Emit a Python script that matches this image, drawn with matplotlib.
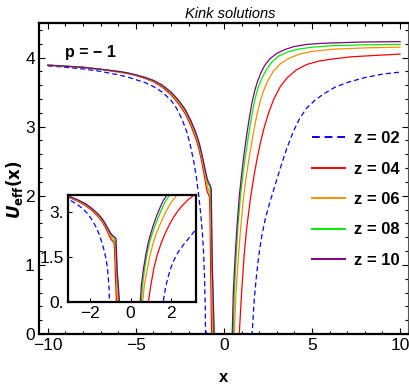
import matplotlib
matplotlib.use("Agg")
import matplotlib.pyplot as plt
from matplotlib import font_manager
from matplotlib.ticker import MultipleLocator

names = {f.name for f in font_manager.fontManager.ttflist}
fam = [n for n in ["Liberation Sans Narrow", "Liberation Sans", "DejaVu Sans"] if n in names]
plt.rcParams['font.family'] = fam

# ---- data ----
labels = ["z = 02", "z = 04", "z = 06", "z = 08", "z = 10"]
colors = ["#0000ff", "#ff0000", "#ff8c00", "#00ee00", "#800080"]

# left branches (x, U)
xL_02 = [-10, -9, -8, -7, -6, -5.5, -5, -4.5, -4, -3.5, -3, -2.7, -2.4, -2.1, -1.9, -1.7, -1.55, -1.42, -1.32, -1.22, -1.15, -1.10, -1.06, -1.03]
yL_02 = [3.88, 3.86, 3.835, 3.80, 3.75, 3.72, 3.68, 3.64, 3.58, 3.50, 3.38, 3.27, 3.12, 2.92, 2.72, 2.48, 2.24, 1.98, 1.74, 1.45, 1.15, 0.80, 0.40, -0.5]

xL_04 = [-10, -9, -8, -7, -6, -5.5, -5, -4.5, -4, -3.5, -3, -2.6, -2.2, -1.9, -1.6, -1.4, -1.25, -1.12, -1.02, -0.95, -0.88, -0.82, -0.79, -0.75, -0.70, -0.69]
yL_04 = [3.89, 3.875, 3.855, 3.83, 3.79, 3.77, 3.74, 3.70, 3.65, 3.57, 3.46, 3.34, 3.19, 3.03, 2.83, 2.66, 2.48, 2.30, 2.15, 2.06, 2.02, 1.98, 1.70, 0.90, 0.0, -0.5]

xL_06 = [-10, -9, -8, -7, -6, -5.5, -5, -4.5, -4, -3.5, -3, -2.6, -2.2, -1.9, -1.6, -1.4, -1.25, -1.11, -1.0, -0.93, -0.86, -0.79, -0.75, -0.70, -0.64, -0.63]
yL_06 = [3.89, 3.875, 3.858, 3.83, 3.795, 3.775, 3.745, 3.708, 3.66, 3.585, 3.48, 3.36, 3.22, 3.07, 2.87, 2.71, 2.54, 2.36, 2.21, 2.12, 2.08, 2.04, 1.75, 0.95, 0.0, -0.5]

xL_08 = [-10, -9, -8, -7, -6, -5.5, -5, -4.5, -4, -3.5, -3, -2.6, -2.2, -1.9, -1.6, -1.4, -1.25, -1.1, -0.99, -0.91, -0.85, -0.78, -0.73, -0.67, -0.58, -0.57]
yL_08 = [3.89, 3.875, 3.86, 3.83, 3.80, 3.778, 3.748, 3.712, 3.665, 3.595, 3.49, 3.38, 3.24, 3.09, 2.90, 2.74, 2.58, 2.40, 2.26, 2.18, 2.15, 2.12, 1.78, 1.0, 0.0, -0.5]

xL_10 = [-10, -9, -8, -7, -6, -5.5, -5, -4.5, -4, -3.5, -3, -2.6, -2.2, -1.9, -1.6, -1.4, -1.25, -1.1, -0.98, -0.9, -0.84, -0.78, -0.72, -0.66, -0.55, -0.54]
yL_10 = [3.89, 3.875, 3.86, 3.83, 3.80, 3.78, 3.75, 3.715, 3.67, 3.60, 3.50, 3.39, 3.25, 3.10, 2.92, 2.76, 2.60, 2.42, 2.28, 2.21, 2.18, 2.15, 2.10, 1.0, 0.0, -0.5]

# right branches (x, U)
xR_02 = [1.57, 1.60, 1.72, 1.85, 1.97, 2.15, 2.35, 2.6, 2.9, 3.2, 3.56, 3.94, 4.3, 4.7, 5.2, 5.7, 6.3, 7.0, 8.0, 9.0, 10]
yR_02 = [-0.5, 0.0, 0.5, 0.85, 1.12, 1.42, 1.67, 1.90, 2.15, 2.40, 2.68, 2.93, 3.12, 3.27, 3.39, 3.48, 3.57, 3.64, 3.71, 3.76, 3.79]

xR_04 = [0.85, 0.87, 1.0, 1.15, 1.30, 1.50, 1.70, 1.90, 2.10, 2.30, 2.55, 2.85, 3.2, 3.6, 4.1, 4.7, 5.4, 6.2, 7.2, 8.5, 10]
yR_04 = [-0.5, 0.0, 0.59, 1.15, 1.55, 1.95, 2.28, 2.56, 2.80, 3.00, 3.21, 3.41, 3.58, 3.71, 3.82, 3.90, 3.95, 3.98, 4.01, 4.03, 4.05]

xR_06 = [0.57, 0.59, 0.68, 0.81, 0.93, 1.10, 1.25, 1.40, 1.55, 1.70, 1.87, 2.05, 2.25, 2.5, 2.8, 3.2, 3.7, 4.3, 5.0, 6.2, 8, 10]
yR_06 = [-0.5, 0.0, 0.59, 1.07, 1.48, 1.95, 2.25, 2.50, 2.73, 2.95, 3.17, 3.36, 3.52, 3.67, 3.80, 3.91, 3.99, 4.05, 4.09, 4.12, 4.14, 4.15]

xR_08 = [0.51, 0.53, 0.59, 0.68, 0.78, 0.93, 1.06, 1.19, 1.35, 1.5, 1.65, 1.8, 1.95, 2.15, 2.4, 2.7, 3.1, 3.6, 4.2, 5.0, 6.0, 8, 10]
yR_08 = [-0.5, 0.0, 0.59, 1.07, 1.51, 1.97, 2.27, 2.52, 2.80, 3.04, 3.26, 3.44, 3.57, 3.70, 3.82, 3.93, 4.02, 4.08, 4.12, 4.15, 4.17, 4.185, 4.19]

xR_10 = [0.45, 0.47, 0.53, 0.63, 0.74, 0.87, 1.0, 1.12, 1.29, 1.45, 1.6, 1.75, 1.9, 2.1, 2.3, 2.6, 3.0, 3.5, 4.0, 4.7, 5.5, 6.6, 8, 10]
yR_10 = [-0.5, 0.0, 0.59, 1.10, 1.55, 1.99, 2.30, 2.56, 2.88, 3.14, 3.36, 3.52, 3.65, 3.78, 3.88, 3.98, 4.06, 4.12, 4.16, 4.19, 4.205, 4.215, 4.225, 4.23]

branches = [
    (xL_02, yL_02, xR_02, yR_02),
    (xL_04, yL_04, xR_04, yR_04),
    (xL_06, yL_06, xR_06, yR_06),
    (xL_08, yL_08, xR_08, yR_08),
    (xL_10, yL_10, xR_10, yR_10),
]

main_xticks = [-10, -5, 0, 5, 10]
main_yticks = [0, 1, 2, 3, 4]
inset_xticks = [-2, 0, 2]
inset_yticks = [0, 1.5, 3]
inset_yticklabels = ["0.", "1.5", "3."]

# ---- figure ----
fig = plt.figure(figsize=(4.09, 3.90), dpi=100)
ax = fig.add_axes([39/409, 56/390, 369/409, 311/390])

def draw(a, lw):
    handles = []
    for (xl, yl, xr, yr), c, lab in zip(branches, colors, labels):
        ls = (0, (4.0, 2.5)) if lab == "z = 02" else "-"
        h, = a.plot(xl, yl, color=c, lw=lw, ls=ls, label=lab, solid_joinstyle="round")
        a.plot(xr, yr, color=c, lw=lw, ls=ls, solid_joinstyle="round")
        handles.append(h)
    return handles

handles = draw(ax, 0.9)
ax.set_xlim(-10.5, 10.45)
ax.set_ylim(0, 4.5)
ax.set_xticks(main_xticks)
ax.set_yticks(main_yticks)
ax.xaxis.set_minor_locator(MultipleLocator(1))
ax.yaxis.set_minor_locator(MultipleLocator(0.2))
ax.tick_params(which="both", direction="in", top=True, right=True, labelsize=12.5, width=0.8, pad=3)
ax.tick_params(which="major", length=4)
ax.tick_params(which="minor", length=2.2)
for s in ["left", "bottom", "top"]:
    ax.spines[s].set_linewidth(1.6)
ax.spines["right"].set_linewidth(0.8)
ax.spines["right"].set_color("#555555")

fig.text(230/409, 1 - 13.5/390, "Kink solutions", fontsize=10.5, style="italic", ha="center", va="center")
ax.set_xlabel("x", fontsize=12, fontweight="bold")
ax.xaxis.set_label_coords((224-39)/369, -(370-334)/311)
ax.set_ylabel(r"$\boldsymbol{U}_{\mathbf{eff}}\mathbf{(x)}$", fontsize=12)
ax.yaxis.set_label_coords(-(39-25)/369, (334-190)/311)
ax.text(-9.0, 4.07, "p = − 1", fontsize=11.5, fontweight="bold", ha="left", va="center")

leg = ax.legend(handles=handles, loc="upper left", bbox_to_anchor=((312-39)/369, (334-131)/311),
                frameon=False, fontsize=12, handlelength=2.0, handletextpad=0.55,
                labelspacing=0.93, borderaxespad=0, borderpad=0)
for t in leg.get_texts():
    t.set_fontweight("bold")
for l in leg.get_lines():
    l.set_linewidth(1.4)

# ---- inset ----
ins = fig.add_axes([67.7/409, 88/390, 128/409, 107/390])
draw(ins, 0.9)
ins.set_xlim(-3.1, 3.2)
ins.set_ylim(0, 3.55)
ins.set_xticks(inset_xticks)
ins.set_yticks(inset_yticks)
ins.set_yticklabels(inset_yticklabels)
ins.tick_params(which="both", direction="in", labelsize=12.5, length=3, width=0.8, pad=3)
for s in ins.spines.values():
    s.set_linewidth(1.6)

fig.savefig("out.png", dpi=100)
